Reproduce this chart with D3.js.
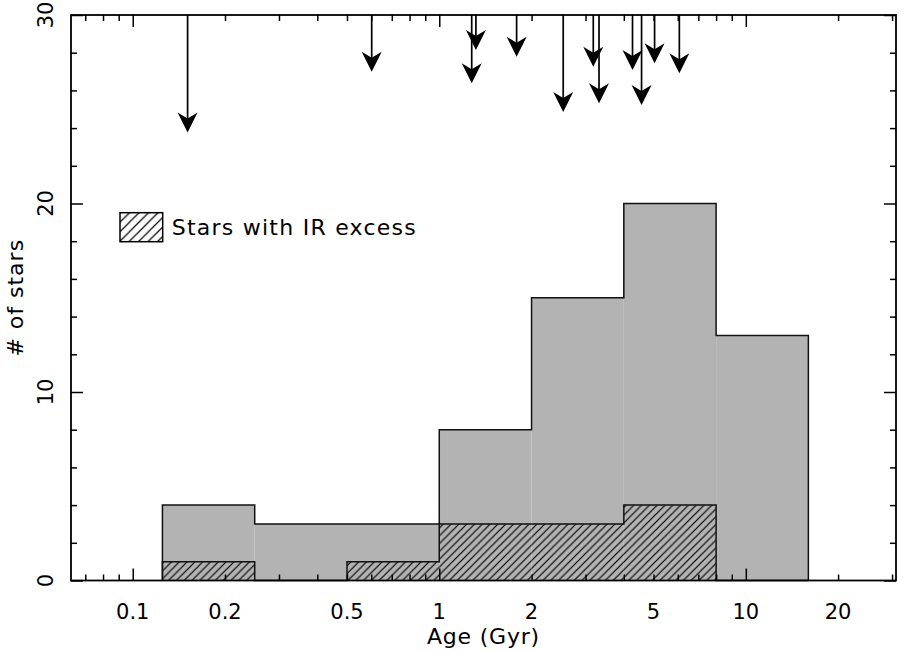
<!DOCTYPE html>
<html>
<head>
<meta charset="utf-8">
<script src="https://cdn.jsdelivr.net/npm/d3@7"></script>
<style>
  body { margin: 0; background: #fff; }
  svg text { font-family: "DejaVu Sans", sans-serif; font-size: 21px; fill: #000; }
  svg text.title { font-size: 22px; }
</style>
</head>
<body>
<svg width="904" height="651"></svg>
<script>
// histogram bins (Gyr) and counts
var binEdges = [0.125, 0.25, 0.5, 1, 2, 4, 8, 16];
var allCounts = [4, 3, 3, 8, 15, 20, 13];
var irCounts = [1, 0, 1, 3, 3, 4, 0];

// ages of the IR excess stars, and where each arrow ends
var arrowAges = [0.151, 0.602, 1.276, 1.317, 1.788, 2.537, 3.18, 3.32, 4.27, 4.57, 5.04, 6.07];
var arrowTips = [23.76, 26.99, 26.38, 28.14, 27.79, 24.85, 27.26, 25.32, 27.08, 25.23, 27.44, 26.91];

var xLabels = [0.1, 0.2, 0.5, 1, 2, 5, 10, 20];
var yLabels = [0, 10, 20, 30];
var yMinor = [2, 4, 6, 8, 12, 14, 16, 18, 22, 24, 26, 28];

var svg = d3.select("svg"),
  margin = {left: 71, top: 15, right: 8, bottom: 70.5},
  width = +svg.attr("width") - margin.left - margin.right,
  height = +svg.attr("height") - margin.top - margin.bottom;

var x = d3.scaleLog().domain([0.0629, 30.9]).range([0, width]);
var y = d3.scaleLinear().domain([0, 30]).range([height, 0]);

var defs = svg.append("defs");
function hatch(id, s) {
  defs.append("pattern")
    .attr("id", id)
    .attr("patternUnits", "userSpaceOnUse")
    .attr("width", s).attr("height", s)
    .append("path")
    .attr("d", "M0," + s + "L" + s + ",0M" + (-s/4) + "," + (s/4) + "L" + (s/4) + "," + (-s/4) +
      "M" + (s*3/4) + "," + (s*5/4) + "L" + (s*5/4) + "," + (s*3/4))
    .attr("stroke", "#000")
    .attr("stroke-width", 1.2);
}
hatch("hatchBars", 7.8);
hatch("hatchLegend", 9.5);

var g = svg.append("g").attr("transform", "translate(" + margin.left + "," + margin.top + ")");

var bins = allCounts.map(function(c, i) {
  return {x0: binEdges[i], x1: binEdges[i + 1], all: c, ir: irCounts[i]};
});

// all stars
g.selectAll("rect.all")
  .data(bins)
  .enter().append("rect")
  .attr("class", "all")
  .attr("x", function(d) { return x(d.x0); })
  .attr("width", function(d) { return x(d.x1) - x(d.x0); })
  .attr("y", function(d) { return y(d.all); })
  .attr("height", function(d) { return y(0) - y(d.all); })
  .attr("fill", "#b3b3b3");

// stars with IR excess
g.selectAll("rect.ir")
  .data(bins.filter(function(d) { return d.ir > 0; }))
  .enter().append("rect")
  .attr("class", "ir")
  .attr("x", function(d) { return x(d.x0); })
  .attr("width", function(d) { return x(d.x1) - x(d.x0); })
  .attr("y", function(d) { return y(d.ir); })
  .attr("height", function(d) { return y(0) - y(d.ir); })
  .attr("fill", "url(#hatchBars)");

function steps(key) {
  var pts = [[binEdges[0], 0]];
  bins.forEach(function(d) {
    pts.push([d.x0, d[key]]);
    pts.push([d.x1, d[key]]);
  });
  pts.push([binEdges[binEdges.length - 1], 0]);
  return d3.line().x(function(p) { return x(p[0]); }).y(function(p) { return y(p[1]); })(pts);
}

g.append("path").attr("d", steps("all"))
  .attr("fill", "none").attr("stroke", "#111").attr("stroke-width", 1.5);
g.append("path").attr("d", steps("ir"))
  .attr("fill", "none").attr("stroke", "#111").attr("stroke-width", 1.5);

// arrows from the top axis
var arrows = g.selectAll("g.arrow")
  .data(arrowAges.map(function(a, i) { return {age: a, tip: arrowTips[i]}; }))
  .enter().append("g")
  .attr("class", "arrow")
  .attr("transform", function(d) { return "translate(" + x(d.age) + ",0)"; });

arrows.append("line")
  .attr("x1", 0).attr("x2", 0)
  .attr("y1", 0)
  .attr("y2", function(d) { return y(d.tip) - 12; })
  .attr("stroke", "#000")
  .attr("stroke-width", 1.7);

arrows.append("path")
  .attr("d", function(d) {
    var t = y(d.tip);
    return "M0," + t + "L-10," + (t - 20) + "L0," + (t - 14) + "L10," + (t - 20) + "Z";
  })
  .attr("fill", "#000");

// ticks, all four sides, pointing inwards
var xTicks = x.ticks();
function isMajor(v) { return Math.abs(Math.log10(v) - Math.round(Math.log10(v))) < 1e-6; }

function tickAxis(axis, vals, size) {
  return axis.tickValues(vals).tickSize(-size).tickFormat("");
}
var xMaj = xTicks.filter(isMajor), xMin = xTicks.filter(function(v) { return !isMajor(v); });

[[d3.axisBottom, "translate(0," + height + ")"], [d3.axisTop, "translate(0,0)"]].forEach(function(a) {
  g.append("g").attr("transform", a[1]).call(tickAxis(a[0](x), xMin, 6));
  g.append("g").attr("transform", a[1]).call(tickAxis(a[0](x), xMaj, 12));
});
[[d3.axisLeft, "translate(0,0)"], [d3.axisRight, "translate(" + width + ",0)"]].forEach(function(a) {
  g.append("g").attr("transform", a[1]).call(tickAxis(a[0](y), yMinor, 6));
  g.append("g").attr("transform", a[1]).call(tickAxis(a[0](y), yLabels, 12));
});
g.selectAll(".domain").remove();
g.selectAll(".tick line").attr("stroke", "#000").attr("stroke-width", 1.5);

g.append("rect")
  .attr("width", width).attr("height", height)
  .attr("fill", "none").attr("stroke", "#000").attr("stroke-width", 1.8);

// tick labels
g.selectAll("text.xl")
  .data(xLabels)
  .enter().append("text")
  .attr("class", "xl")
  .attr("x", function(d) { return x(d); })
  .attr("y", height + 38)
  .attr("text-anchor", "middle")
  .text(function(d) { return d; });

g.selectAll("text.yl")
  .data(yLabels)
  .enter().append("text")
  .attr("class", "yl")
  .attr("transform", function(d) { return "translate(-18," + y(d) + ") rotate(-90)"; })
  .attr("text-anchor", "middle")
  .text(function(d) { return d; });

// axis titles
g.append("text")
  .attr("class", "title")
  .attr("x", width / 2)
  .attr("y", height + 63.5)
  .attr("text-anchor", "middle")
  .style("letter-spacing", "0.8px")
  .text("Age (Gyr)");

g.append("text")
  .attr("class", "title")
  .attr("transform", "translate(-48," + (height / 2) + ") rotate(-90)")
  .attr("text-anchor", "middle")
  .style("letter-spacing", "1px")
  .text("# of stars");

// legend
var legend = svg.append("g").attr("transform", "translate(120,212.7)");
legend.append("rect")
  .attr("width", 42.7).attr("height", 29)
  .attr("fill", "url(#hatchLegend)")
  .attr("stroke", "#000").attr("stroke-width", 1.5);
legend.append("text")
  .attr("class", "title")
  .attr("x", 51.7)
  .attr("y", 22.3)
  .style("letter-spacing", "1.25px")
  .text("Stars with IR excess");
</script>
</body>
</html>
